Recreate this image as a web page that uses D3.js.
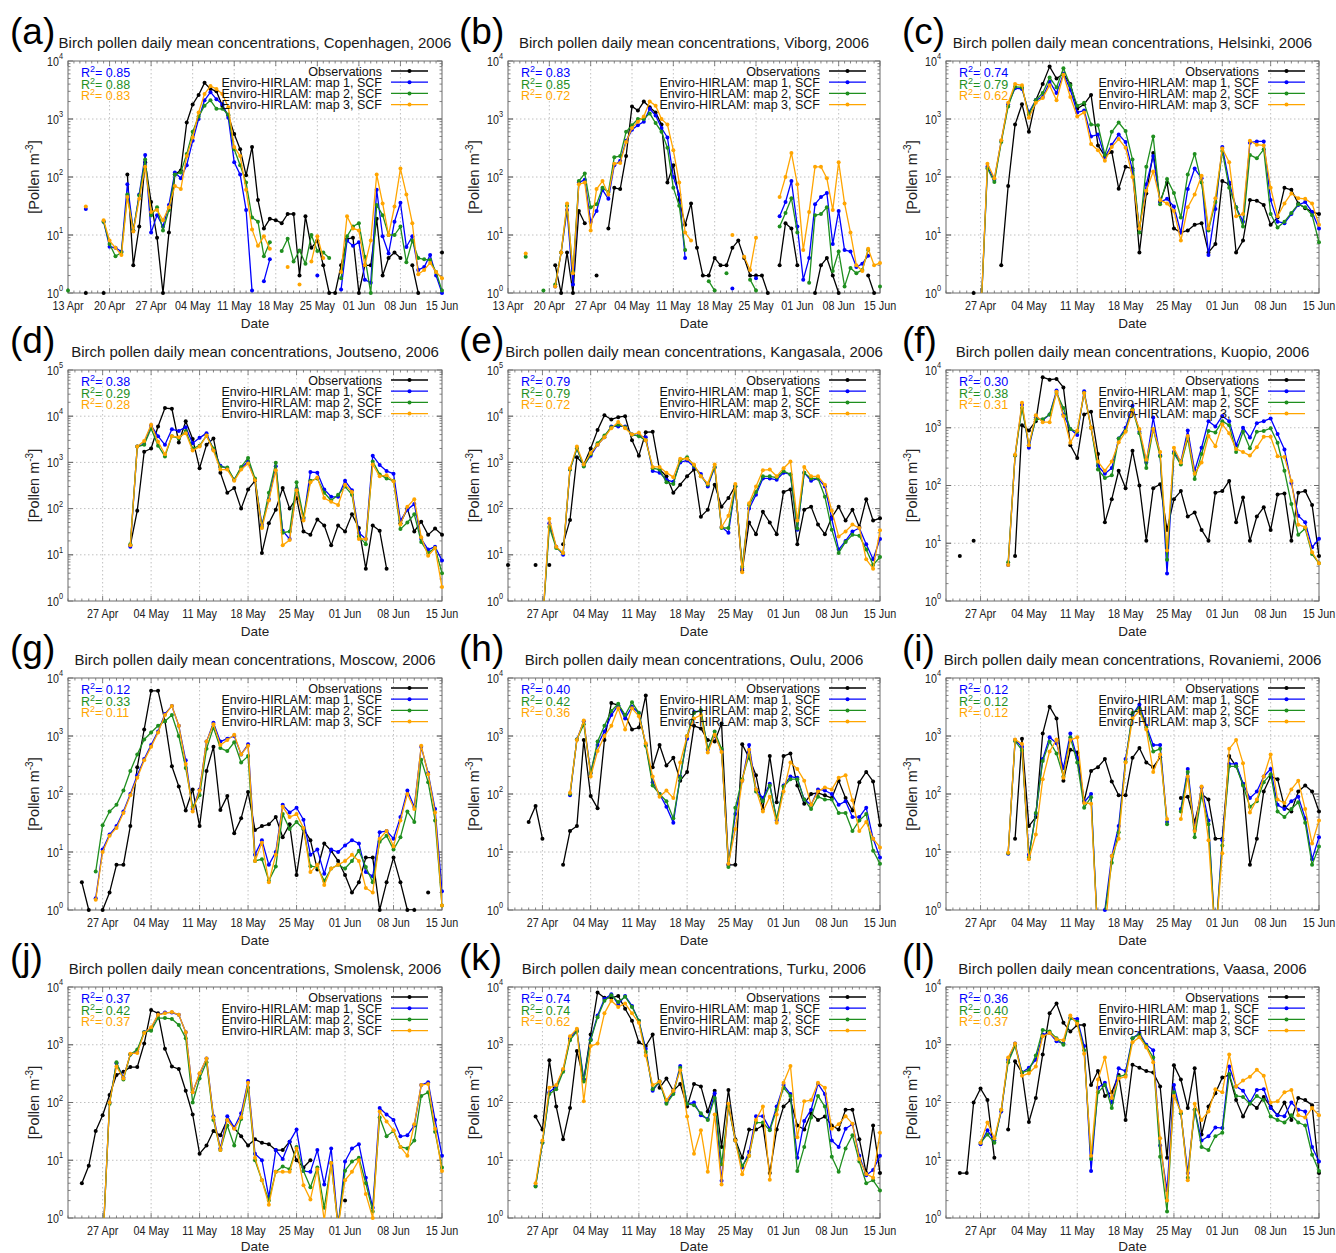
<!DOCTYPE html>
<html><head><meta charset="utf-8">
<script src="https://cdn.jsdelivr.net/npm/d3@7"></script>
<style>body{margin:0;background:#fff} svg{display:block;font-family:"Liberation Sans",Arial,Helvetica,sans-serif}</style>
</head><body><svg id="chart" width="1336" height="1253"></svg>
<script>
// ---------------- DATA ----------------
const panelLabels = ["(a)","(b)","(c)","(d)","(e)","(f)","(g)","(h)","(i)","(j)","(k)","(l)"];
const cities = ["Copenhagen","Viborg","Helsinki","Joutseno","Kangasala","Kuopio","Moscow","Oulu","Rovaniemi","Smolensk","Turku","Vaasa"];
const startDates = ["2006-04-13","2006-04-13","2006-04-22","2006-04-22","2006-04-22","2006-04-22","2006-04-22","2006-04-22","2006-04-22","2006-04-22","2006-04-22","2006-04-22"];
const endDate = "2006-06-15";
const yMaxExp = [4,4,4,5,5,4,4,4,4,4,4,4];
const seriesNames = ["Observations","Enviro-HIRLAM: map 1, SCF","Enviro-HIRLAM: map 2, SCF","Enviro-HIRLAM: map 3, SCF"];
const r2Map1 = ["0.85","0.83","0.74","0.38","0.79","0.30","0.12","0.40","0.12","0.37","0.74","0.36"];
const r2Map2 = ["0.88","0.85","0.79","0.29","0.79","0.38","0.33","0.42","0.12","0.42","0.74","0.40"];
const r2Map3 = ["0.83","0.72","0.62","0.28","0.72","0.31","0.11","0.36","0.12","0.37","0.62","0.37"];
const N = null;

// (a) Copenhagen, from 13 Apr
const obsCopenhagen = [N,N,N,1,N,N,1,N,N,N, 110,3,14,180,37,9,1,11,110,130, 870,1780,2600,4200,3300,3000,1700,1150,550,300, 107,330,40,13,19,18,16,23,23,2, 21,6,8,3,1,1,3,8.5,9,1, 3,3,19,2,4,5,4,N,3,1, N,N,N,5];
const map1Copenhagen = [N,N,N,28,N,N,17,6.3,6,5.2, 75,12,50,240,11,22,14,33,120,95, 160,420,1000,2100,2900,2200,1800,1050,180,110, 27,1.1,N,1.6,3.8,N,N,N,N,N, N,N,2,N,N,N,1.15,8,6.5,7.5, 1.7,1.5,60,9.5,4.8,17,36,6.2,9.5,2.5, 2.8,4.5,2,1];
const map2Copenhagen = [1.1,N,N,N,N,N,17,7,4.3,5, 50,12,48,200,22,30,12,27,110,120, 250,600,1100,1700,2100,1500,1500,1200,300,160, 80,20,17,4.3,7.5,N,5.3,8.6,3.5,5.4, 3.2,10,5.3,5,4,N,1.8,9.5,14,16, 4.2,1,33,22,10,10,14,3.4,8,4, 3.8,3.7,2.3,1.1];
const map3Copenhagen = [N,N,N,31,N,N,18,8,6,4.5, 45,11.5,42,150,25,27,18,30,70,62, 230,480,1300,2700,3700,3300,2700,1600,330,230, 60,12.5,6.5,9.5,5.8,N,N,2.8,N,1.4, N,3.5,9.5,4,N,N,2.3,21,13,12, 3,8,110,35,10,31,140,50,16,2.1, 2.5,3.3,2.3,1.8];

// (b) Viborg, from 13 Apr
const obsViborg = [N,N,N,N,N,N,N,N,3,1, 5,1,26,16,N,2,N,13,65,62, 230,1650,1400,2000,1600,1300,800,80,160,40, 15,35,6,2,2,4,3,3,6,8, 4,2,2,2,1,N,3,16,13,3, N,N,1,3,4,2,1,N,N,N, N,2,1,N];
const map1Viborg = [N,N,N,N,N,N,N,N,1.3,5, 27,1.4,80,90,17,26,60,42,160,190, 420,650,780,900,1500,1150,700,480,100,50, 4,N,N,N,N,N,N,N,1.2,N, N,N,1.8,N,N,N,21,37,85,14, 1.7,4,34,45,53,7,26,5.5,5.2,2.8, 3.2,4.4,N,N];
const map2Viborg = [N,N,N,4.2,N,N,1.1,N,1.4,5, 32,2.3,85,115,30,34,65,55,220,230, 600,780,1000,1000,1250,850,600,320,65,32, 5.5,N,N,N,1.6,1.1,N,2.2,N,N, N,1.7,1.1,N,N,N,14,24,43,11, N,1.5,22,23,30,2.4,5.2,1.3,2.7,2.2, 2.5,5.5,N,1.3];
const map3Viborg = [N,N,N,4.8,N,N,N,N,1.3,5, 35,2.2,75,80,12,62,85,50,170,175, 400,700,900,1100,2000,1700,1000,800,290,80, 11,8,N,N,N,N,N,N,10,N, 4.2,2.5,9,N,N,N,45,100,260,75, 5.5,25,150,150,95,27,180,35,11,3, 2.4,5.8,3,3.3];

// (c) Helsinki, from 22 Apr
const obsHelsinki = [N,N,N,N,1,N,N,N,3,70, 800,1800,600,2100,4000,8000,5000,6000,4000,1500, 1800,2600,350,230,270,63,150,140,5,52, 260,38,80,13,11,12,15,16,5,7, 85,75,5,8,40,39,33,15,20,65, 60,35,29,25,23];
const map1Helsinki = [N,N,N,N,N,0.3,150,90,420,1800, 3400,3300,1300,2100,2400,4400,2800,6000,3200,1300, 1400,500,540,220,360,540,400,130,13,75, 230,37,42,31,11,62,140,95,4.5,28, 330,80,30,17,390,410,410,40,17,16, 23,33,37,25,13];
const map2Helsinki = [N,N,N,N,N,0.3,140,82,400,1650, 3600,3500,1200,2100,2800,5200,3500,7500,3800,1700, 1900,800,780,240,600,870,620,200,11,150, 500,34,92,53,20,110,250,80,12,37, 280,65,30,14,240,210,300,23,13.5,17, 24,34,30,22,7.5];
const map3Helsinki = [N,N,N,N,N,0.3,170,95,430,1900, 4000,3800,1050,1900,2300,3800,2100,5800,2400,1100, 1300,370,290,190,330,450,320,100,13,58, 125,40,35,26,8,30,50,105,13,43, 310,180,21,23,420,360,350,65,21,35, 52,43,42,35,15];

// (d) Joutseno
const obsJoutseno = [N,N,N,N,N,N,N,N,N,16, 90,1700,2000,6000,15000,14500,2700,7800,3200,750, 2400,3300,600,220,280,100,260,400,11,48, 95,280,100,170,32,27,58,43,16,43, 32,75,38,5,43,33,5,N,48,100, 32,52,27,37,27];
const map1Joutseno = [N,N,N,N,N,N,N,N,N,15, 2200,2500,6300,3700,2400,5200,4800,5800,2600,3400, 4300,1900,850,730,420,750,1050,420,45,160, 830,33,22,270,60,620,600,260,180,180, 400,250,30,22,1400,880,650,570,55,95, 125,22,13,15,7.5];
const map2Joutseno = [N,N,N,N,N,N,N,N,N,17, 2200,2400,5400,2300,1350,3700,3300,4800,2000,2300, 3800,2000,800,780,420,800,1250,450,40,220, 980,30,32,370,65,400,450,220,150,200, 300,200,25,17,1050,550,450,400,36,50, 75,19,11,14,4];
const map3Joutseno = [N,N,N,N,N,N,N,N,N,16, 2200,2900,6500,2800,1500,3700,3500,4300,1800,2200, 3800,1800,700,700,400,700,950,410,38,150, 680,16,21,250,55,370,470,170,140,120, 330,230,22,22,900,500,530,390,45,110, 160,24,9.5,14,2];

// (e) Kangasala
const obsKangasala = [6,N,N,N,6,N,6,N,17,57, 1300,900,2000,5000,10500,8500,9500,10000,3000,1400, 4500,4600,700,500,220,330,500,700,67,95, 330,110,170,310,4.5,50,28,85,50,28, 230,260,17,95,110,45,28,65,110,55, 95,40,160,55,62];
const map1Kangasala = [N,N,N,N,N,0.3,48,15,10,700, 2000,850,1400,2400,3500,6000,6000,6000,4000,3800, 3500,650,600,420,380,1000,1100,800,560,300, 780,40,30,300,5,100,200,450,450,420, 600,550,35,600,400,450,300,60,13,20, 32,38,17,8,22];
const map2Kangasala = [N,N,N,N,N,0.3,40,14,11,700, 2000,820,1500,2600,3800,5800,6500,5800,4000,3700, 3000,750,700,370,340,1100,1300,850,500,330, 800,38,38,300,5.5,120,230,500,500,470, 650,550,37,600,450,450,180,35,11,19, 27,26,13,6,9];
const map3Kangasala = [N,N,N,N,N,0.3,60,15,11,750, 2200,900,1600,2400,3500,5500,7500,5500,4000,4400, 3000,800,800,600,480,1200,1200,900,500,350, 900,40,70,340,4.2,130,300,680,700,500, 750,1050,55,800,500,500,330,90,25,32, 45,38,8,5,34];

// (f) Kuopio
const obsKuopio = [N,N,6,N,11,N,N,N,N,N, 6,1100,900,1300,7500,6800,7000,5000,500,300, 1700,1900,350,23,58,180,90,400,100,11, 90,105,17,58,80,29,34,17,11,75, 80,120,23,62,11,29,42,17,70,73, 11,75,80,46,6];
const map1Kuopio = [N,N,N,N,N,N,N,N,N,4.2, 330,2500,450,1500,1350,1700,4400,1700,950,750, 4300,1000,220,160,200,650,1000,2400,850,250, 1500,330,3,380,260,900,180,450,1300,1050, 1600,1300,500,1000,680,1200,1300,1450,780,420, 110,30,23,8.5,12];
const map2Kuopio = [N,N,N,N,N,N,N,N,N,4.7, 330,2200,500,1400,1400,1700,4000,2200,950,850, 4000,1000,190,135,150,650,900,2100,800,200, 950,320,5.2,360,230,650,130,350,880,830, 1300,1100,380,850,440,850,880,980,550,180, 48,14,18,6.5,4.5];
const map3Kuopio = [N,N,N,N,N,N,N,N,N,4.2, 340,2700,500,1650,1250,1250,4200,1600,550,900, 4000,1000,260,180,260,560,850,2000,950,280, 950,380,7.5,450,250,720,160,250,720,480, 1150,800,430,380,330,460,700,700,320,310, 120,21,19,7,4.5];

// (g) Moscow
const obsMoscow = [N,N,3,1,N,1,2,6,6,28, 290,1300,6000,6000,1800,300,135,52,120,28, 250,650,53,92,21,38,108,24,28,30, 40,18,30,4,25,16,5,14,10.5,7, 4,2,3,8,8,1,3,8,3,1, 1,N,2,N,N];
const map1Moscow = [N,N,N,N,1.6,11,20,28,50,100, 210,400,700,1200,2400,3300,1500,380,55,120, 800,1700,800,900,1000,480,720,9,16,6, 10,65,48,58,36,9,11,4.2,11,10, 13,16,14,4.5,3.8,22,23,17,40,115, 60,650,230,55,2.1];
const map2Moscow = [N,N,N,N,4.6,29,50,65,115,250, 480,870,1150,1500,1800,2300,1000,280,60,95, 600,1400,620,550,780,350,450,7,7.5,3.2, 5.6,45,25,33,25,5.7,5.5,3.2,5.2,6, 5.2,7,10.5,5.5,3,15,19,11,18,50, 33,390,160,35,1.2];
const map3Moscow = [N,N,N,N,1.5,10,19,26,47,95, 190,380,650,1150,2300,3300,1500,330,50,115, 800,1600,700,850,1050,480,680,7,14.5,3, 9,60,40,45,26,4.5,6,2.7,5.2,6, 7,9,7,2.4,2,17,23,12.5,35,100, 55,680,220,48,1.2];

// (h) Oulu
const obsOulu = [N,N,N,33,62,17,N,N,6,23, 28,850,92,57,850,3700,3400,2300,1300,1400, 5000,290,700,310,420,170,240,1500,1350,850, 800,1650,6,6,720,420,210,55,450,72, 450,500,140,68,100,105,95,85,170,85, 52,160,240,165,29];
const map1Oulu = [N,N,N,N,N,N,N,N,N,95, 870,1800,230,700,1200,2300,3400,2000,3200,2500, 700,160,100,60,32,200,900,2600,2700,580, 1000,580,6,45,170,700,120,85,150,35, 140,200,190,80,65,120,115,100,65,75, 40,40,58,17,8];
const map2Oulu = [N,N,N,N,N,N,N,N,N,100, 870,1600,230,800,1500,2700,3600,2300,3800,2500, 680,140,100,75,38,190,1000,2500,2800,600, 1200,600,5.5,58,180,480,110,75,140,37, 135,180,180,80,55,90,80,80,47,47, 23,35,45,10.5,6.3];
const map3Oulu = [N,N,N,N,N,N,N,N,N,105, 850,1850,200,550,1000,1500,3000,1300,3000,2200, 750,200,90,115,85,350,1000,2000,2300,520, 1050,530,6.3,25,170,580,120,50,90,32, 110,350,270,170,65,110,130,120,190,210, 78,23,33,17,12];

// (i) Rovaniemi
const obsRovaniemi = [N,N,N,N,N,N,N,N,N,N, 17,900,28,40,1100,3200,2000,170,580,520, 75,250,290,400,165,95,95,420,620,350, 290,430,N,N,85,90,33,100,80,17, 17,450,300,150,6,17,110,200,180,60, 50,110,140,110,50];
const map1Rovaniemi = [N,N,N,N,N,N,N,N,N,9.3, 850,650,9,45,400,950,750,280,1100,420, 72,100,0.3,1,8.5,28,400,2300,3500,1500, 700,700,33,N,55,270,24,130,35,0.3, 16,330,330,150,85,110,200,270,65,55, 75,90,38,7.5,18];
const map2Rovaniemi = [N,N,N,N,N,N,N,N,N,9.5, 820,570,8,47,370,800,500,200,950,350, 58,88,0.3,0.9,6.5,22,360,2500,3000,1400, 540,600,30,N,50,240,18,95,30,0.3, 13,300,300,140,60,75,160,220,50,40, 55,72,32,6,12.5];
const map3Rovaniemi = [N,N,N,N,N,N,N,N,N,9.7, 870,730,7.5,20,180,540,870,190,850,950, 70,68,0.3,0.4,8.5,17,350,2000,2700,1300, 240,480,37,N,37,200,23,135,16,0.3, 9.5,600,850,340,48,80,200,480,80,70, 120,170,55,14,35];

// (j) Smolensk
const obsSmolensk = [N,N,4,8,32,60,135,300,340,410, 410,1050,4000,3500,850,420,380,160,62,13, 18,32,27,50,36,26,18,23,20,19, 15,15,21,10,7.5,10,N,N,N,N, 2,N,N,N,N,N,N,N,N,N, N,N,N,N,N];
const map1Smolensk = [N,N,N,N,N,0.3,100,480,270,680, 760,1650,1900,3300,3600,3600,3300,1650,150,310, 580,58,16,58,37,65,235,13,10,2.3, 15,10.5,21,34,6.5,6.3,15,3.8,16,0.7, 9.5,16,19,5,1.5,80,62,50,26,27, 40,200,225,50,12];
const map2Smolensk = [N,N,N,N,N,0.3,95,500,250,680, 830,1650,1750,2900,2900,2800,2200,1300,100,260, 500,50,15,40,18,52,180,10,4.5,2, 6.3,7.8,7,17,6.5,3.4,7.5,1.5,9,0.7, 6.6,9.5,11,4,1.3,55,26,32,17,16, 22,130,150,31,7.5];
const map3Smolensk = [N,N,N,N,N,0.3,100,420,260,700, 720,1600,2000,3300,3500,3700,3300,1650,150,320, 580,55,15,50,35,55,220,11,4.5,1.7, 6.3,6.3,6.3,16,3.7,2.1,7,0.9,9,0.7, 4.5,6.3,10,2.6,1,70,47,33,17,12, 42,200,210,35,6.5];

// (k) Turku
const obsTurku = [N,N,N,N,57,34,540,85,23,80, 780,250,1500,8000,6500,6500,7000,4200,2600,1100, 950,1500,180,260,160,210,85,210,190,70, 160,17,165,23,11,34,34,40,6,34, 85,110,40,34,65,50,57,40,34,75, 75,23,6,40,6];
const map1Turku = [N,N,N,N,3.6,20,150,190,360,1300, 1800,250,1250,3200,6200,7500,5000,7000,4700,2600, 850,160,230,100,150,430,95,100,60,52, 145,4.4,90,22,7.5,14,58,58,35,85, 200,140,11,48,75,210,140,22,17,35, 42,12,5.5,6.8,12];
const map2Turku = [N,N,N,N,3.5,20,140,170,340,1200, 1700,230,1200,3000,5800,7200,5500,6800,4500,2600, 750,170,230,95,140,400,95,90,65,50, 120,8.5,85,22,8,12,45,45,33,75, 180,130,6.5,17,55,130,85,11.5,6.3,16, 27,9.5,4,4.5,3];
const map3Turku = [N,N,N,N,4,22,180,200,380,1400, 1900,105,950,1050,3500,5800,4500,5200,3500,2400, 650,200,230,110,160,360,57,13,33,6.3, 62,3.8,95,22,5.7,12,50,85,4.6,62, 220,430,25,105,110,220,180,35,42,58, 43,10.5,5.8,5,30];

// (l) Vaasa
const obsVaasa = [N,N,6,6,100,175,110,11,N,34, 520,330,46,120,680,3500,5200,2400,1700,2200, 2200,200,350,130,150,300,50,450,400,350, 330,190,11,440,250,80,390,28,85,145, 270,300,110,57,100,80,125,85,60,100, 50,120,110,90,6];
const map1Vaasa = [N,N,N,N,N,19,33,22,70,550, 1050,330,400,550,1500,1600,1150,1050,2900,2800, 950,6.5,180,220,100,390,350,1300,1600,1000, 800,18,3,200,65,6,75,22,26,37, 36,420,190,160,100,165,170,80,60,58, 100,75,70,17,9.5];
const map2Vaasa = [N,N,N,N,N,20,28,20,75,500, 950,330,360,650,1800,1700,1300,1000,2900,2500, 800,10.5,150,200,80,280,300,1300,1500,950, 600,11.5,1.3,150,65,5,75,17,15,26, 30,310,130,125,95,130,110,57,50,45, 60,45,40,12.5,6.5];
const map3Vaasa = [N,N,N,N,N,20,45,24,75,600, 1050,290,320,420,1400,1600,1250,1200,3200,2300, 700,12,250,600,120,260,280,1100,1350,900, 500,24,2,130,70,4.5,95,50,70,170, 150,680,190,240,280,370,290,100,105,150, 165,60,55,80,60];

const obsSeries = [obsCopenhagen,obsViborg,obsHelsinki,obsJoutseno,obsKangasala,obsKuopio,obsMoscow,obsOulu,obsRovaniemi,obsSmolensk,obsTurku,obsVaasa];
const map1Series = [map1Copenhagen,map1Viborg,map1Helsinki,map1Joutseno,map1Kangasala,map1Kuopio,map1Moscow,map1Oulu,map1Rovaniemi,map1Smolensk,map1Turku,map1Vaasa];
const map2Series = [map2Copenhagen,map2Viborg,map2Helsinki,map2Joutseno,map2Kangasala,map2Kuopio,map2Moscow,map2Oulu,map2Rovaniemi,map2Smolensk,map2Turku,map2Vaasa];
const map3Series = [map3Copenhagen,map3Viborg,map3Helsinki,map3Joutseno,map3Kangasala,map3Kuopio,map3Moscow,map3Oulu,map3Rovaniemi,map3Smolensk,map3Turku,map3Vaasa];

// ---------------- LAYOUT / STYLE ----------------
const colLeft = [68, 508, 946], colRight = [442, 880, 1319];
const rowTop = [61, 370, 678, 987], rowBottom = [293, 601, 910, 1218];
const labelX = [10, 459, 902];
const colors = ["#000000", "#0000ff", "#1f8f1f", "#ffa500"];

const svg = d3.select("#chart");
const parse = d3.utcParse("%Y-%m-%d");
const fmt = d3.utcFormat("%d %b");
const tickOrigin = parse("2006-04-13");

cities.forEach((city, i) => {
  const col = i % 3, row = Math.floor(i / 3);
  const L = colLeft[col], R = colRight[col], T = rowTop[row], B = rowBottom[row];
  const start = parse(startDates[i]), end = parse(endDate);
  const x = d3.scaleUtc().domain([start, end]).range([L, R]);
  const y = d3.scaleLog().domain([1, Math.pow(10, yMaxExp[i])]).range([B, T]);
  const g = svg.append("g");

  const clipId = "clip" + i;
  svg.append("clipPath").attr("id", clipId).append("rect")
    .attr("x", L).attr("y", T).attr("width", R - L).attr("height", B - T);

  // grid
  const majorX = d3.utcDay.range(tickOrigin, d3.utcDay.offset(end, 1), 7).filter(d => d >= start);
  const decades = d3.range(0, yMaxExp[i] + 1).map(k => Math.pow(10, k));
  g.selectAll(null).data(majorX.filter(d => x(d) > L + 1 && x(d) < R - 1)).join("line")
    .attr("x1", d => x(d)).attr("x2", d => x(d)).attr("y1", T).attr("y2", B)
    .attr("stroke", "#b0b0b0").attr("stroke-width", 0.8).attr("stroke-dasharray", "1.5,2.5");
  g.selectAll(null).data(decades.slice(1, -1)).join("line")
    .attr("x1", L).attr("x2", R).attr("y1", d => y(d)).attr("y2", d => y(d))
    .attr("stroke", "#b0b0b0").attr("stroke-width", 0.8).attr("stroke-dasharray", "1.5,2.5");

  // ticks (mirrored, inward)
  const days = d3.utcDay.range(start, d3.utcDay.offset(end, 1));
  const tk = g.append("g").attr("stroke", "#666").attr("stroke-width", 0.8);
  days.forEach(d => {
    const isMajor = majorX.some(m => +m === +d);
    const len = isMajor ? 5 : 2.5;
    tk.append("line").attr("x1", x(d)).attr("x2", x(d)).attr("y1", B).attr("y2", B - len);
    tk.append("line").attr("x1", x(d)).attr("x2", x(d)).attr("y1", T).attr("y2", T + len);
  });
  for (let k = 0; k < yMaxExp[i]; k++) {
    for (let m = 1; m <= 10; m++) {
      const v = m * Math.pow(10, k);
      const len = (m === 1 || m === 10) ? 5 : 2.5;
      tk.append("line").attr("x1", L).attr("x2", L + len).attr("y1", y(v)).attr("y2", y(v));
      tk.append("line").attr("x1", R).attr("x2", R - len).attr("y1", y(v)).attr("y2", y(v));
    }
  }

  // frame
  g.append("rect").attr("x", L).attr("y", T).attr("width", R - L).attr("height", B - T)
    .attr("fill", "none").attr("stroke", "#6a6a6a").attr("stroke-width", 1);

  // x tick labels
  majorX.forEach(d => {
    g.append("g").attr("transform", `translate(${x(d)},${B + 16.5}) scale(0.83,1)`)
      .append("text").attr("text-anchor", "middle").attr("font-size", 13).attr("fill", "#222")
      .text(fmt(d));
  });
  // y tick labels
  decades.forEach((v, k) => {
    const t = g.append("g").attr("transform", `translate(${L - 5},${y(v) + 4.5}) scale(0.82,1)`)
      .append("text").attr("text-anchor", "end").attr("font-size", 13).attr("fill", "#222");
    t.append("tspan").text("10");
    t.append("tspan").attr("font-size", 9).attr("dy", -6.5).text(String(k));
  });

  // axis titles
  g.append("text").attr("x", (L + R) / 2).attr("y", Math.min(B + 35, 1251)).attr("text-anchor", "middle")
    .attr("font-size", 13.5).attr("fill", "#222").text("Date");
  const yt = g.append("g").attr("transform", `translate(${L - 29},${(T + B) / 2}) rotate(-90)`)
    .append("text").attr("text-anchor", "middle").attr("font-size", 14.5).attr("fill", "#222");
  yt.append("tspan").text("[Pollen m");
  yt.append("tspan").attr("font-size", 10).attr("dy", -6).text("-3");
  yt.append("tspan").attr("dy", 6).text("]");

  // title and panel label
  g.append("text").attr("x", (L + R) / 2).attr("y", T - 13.5).attr("text-anchor", "middle")
    .attr("font-size", 15).attr("fill", "#1a1a1a")
    .text(`Birch pollen daily mean concentrations, ${city}, 2006`);
  g.append("text").attr("x", labelX[col]).attr("y", T - 17).attr("font-size", 37)
    .attr("fill", "#000").text(panelLabels[i]);

  // series
  const all = [obsSeries[i], map1Series[i], map2Series[i], map3Series[i]];
  all.forEach((arr, s) => {
    const pts = arr.map((v, k) => ({ d: d3.utcDay.offset(start, k), v }));
    const line = d3.line().defined(p => p.v != null)
      .x(p => x(p.d)).y(p => y(Math.max(p.v, 0.01)));
    g.append("path").attr("d", line(pts)).attr("fill", "none")
      .attr("stroke", colors[s]).attr("stroke-width", 1.3).attr("stroke-linejoin", "round")
      .attr("clip-path", `url(#${clipId})`);
    g.append("g").selectAll("circle").data(pts.filter(p => p.v != null && p.v >= 0.99)).join("circle")
      .attr("cx", p => x(p.d)).attr("cy", p => y(p.v)).attr("r", 2).attr("fill", colors[s]);
  });

  // legend
  seriesNames.forEach((name, s) => {
    const cy = T + 10 + 11.2 * s;
    g.append("text").attr("x", R - 60).attr("y", cy + 4.5).attr("text-anchor", "end")
      .attr("font-size", 12.5).attr("fill", "#111").text(name);
    g.append("line").attr("x1", R - 51).attr("x2", R - 14).attr("y1", cy).attr("y2", cy)
      .attr("stroke", colors[s]).attr("stroke-width", 1.3);
    g.append("circle").attr("cx", R - 32.5).attr("cy", cy).attr("r", 2).attr("fill", colors[s]);
  });

  // R^2
  [r2Map1[i], r2Map2[i], r2Map3[i]].forEach((r, s) => {
    const t = g.append("text").attr("x", L + 13).attr("y", T + 16 + 11.5 * s)
      .attr("font-size", 12.5).attr("fill", colors[s + 1]);
    t.append("tspan").text("R");
    t.append("tspan").attr("font-size", 9).attr("dy", -5).text("2");
    t.append("tspan").attr("dy", 5).text("= " + r);
  });
});
</script>
</body></html>
